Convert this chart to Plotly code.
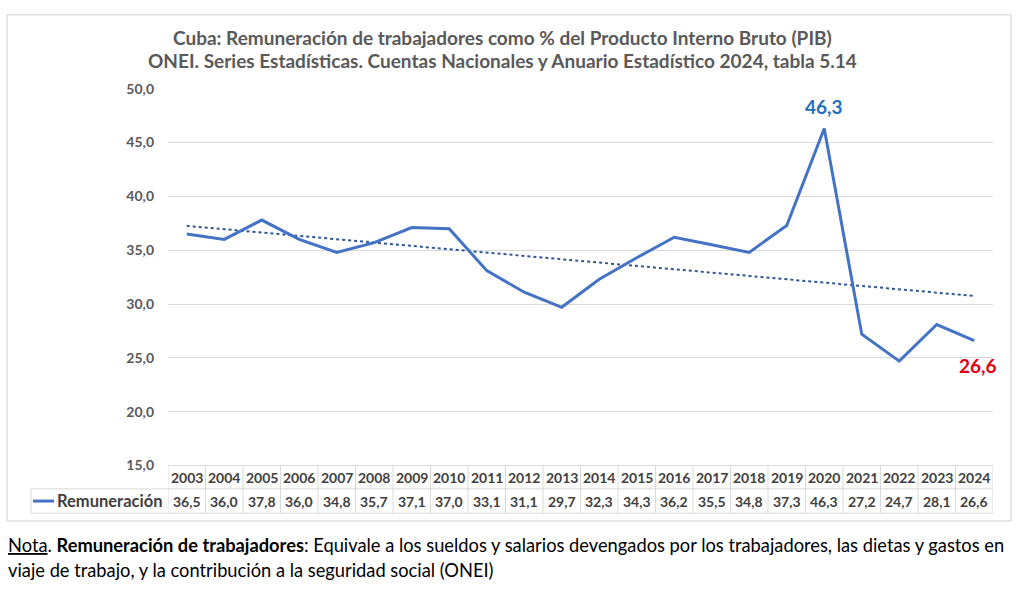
import numpy as np
import plotly.graph_objects as go

years = list(range(2003, 2025))
values = [36.5, 36.0, 37.8, 36.0, 34.8, 35.7, 37.1, 37.0, 33.1, 31.1, 29.7,
          32.3, 34.3, 36.2, 35.5, 34.8, 37.3, 46.3, 27.2, 24.7, 28.1, 26.6]
series_name = "Remuneración"
title_line1 = "Cuba: Remuneración de trabajadores como % del Producto Interno Bruto (PIB)"
title_line2 = "ONEI. Series Estadísticas. Cuentas Nacionales y Anuario Estadístico 2024, tabla 5.14"
y_ticks = [15, 20, 25, 30, 35, 40, 45, 50]
note_line1 = ("<u>Nota</u>. <b>Remuneración de trabajadores</b>: Equivale a los sueldos y salarios "
              "devengados por los trabajadores, las dietas y gastos en")
note_line2 = "viaje de trabajo, y la contribución a la seguridad social (ONEI)"

W, H = 1024, 596
FONT = "Lato"
LINE = "#4472C4"
GRID = "#D9D9D9"
TXT = "#404040"

def px_x(p):
    return p / W

def px_y(p):
    return 1 - p / H

def fmt(v):
    return f"{v:.1f}".replace(".", ",")

# linear trend line (Excel-style linear trendline)
coef = np.polyfit(np.array(years, dtype=float), np.array(values), 1)
trend = np.polyval(coef, np.array(years, dtype=float))

fig = go.Figure()
fig.add_trace(go.Scatter(x=years, y=trend, mode="lines",
                         line=dict(color="#2F5597", width=2, dash="dot"),
                         hoverinfo="skip", showlegend=False))
fig.add_trace(go.Scatter(x=years, y=values, mode="lines", name=series_name,
                         line=dict(color=LINE, width=3), showlegend=False))

plot_left, plot_right = 168, 993
plot_top, plot_bottom = 82, 470

shapes = []
annotations = []

# chart border
shapes.append(dict(type="rect", xref="paper", yref="paper",
                   x0=px_x(7), x1=px_x(1011), y0=px_y(527), y1=px_y(6),
                   line=dict(color="#D0D0D0", width=1)))

# titles
for txt, yp in ((title_line1, 29), (title_line2, 53)):
    annotations.append(dict(text=f"<b>{txt}</b>", xref="paper", yref="paper",
                            x=px_x(502), y=px_y(yp), xanchor="center", yanchor="middle",
                            showarrow=False, font=dict(family=FONT, size=19, color="#595959")))

# data table
hdr_top, hdr_bot, row_bot = 470, 494, 519
tbl_left = 31
x_lo = years[0] - 0.5
x_hi = years[-1] + 0.5
border = dict(color=GRID, width=1)
shapes.append(dict(type="line", xref="x", yref="paper", x0=x_lo, x1=x_hi,
                   y0=px_y(hdr_top), y1=px_y(hdr_top), line=border))
shapes.append(dict(type="line", xref="paper", yref="paper", x0=px_x(tbl_left), x1=px_x(plot_right),
                   y0=px_y(hdr_bot), y1=px_y(hdr_bot), line=border))
shapes.append(dict(type="line", xref="paper", yref="paper", x0=px_x(tbl_left), x1=px_x(plot_right),
                   y0=px_y(row_bot), y1=px_y(row_bot), line=border))
shapes.append(dict(type="line", xref="paper", yref="paper", x0=px_x(tbl_left), x1=px_x(tbl_left),
                   y0=px_y(hdr_bot), y1=px_y(row_bot), line=border))
for i in range(len(years) + 1):
    xv = years[0] - 0.5 + i
    shapes.append(dict(type="line", xref="x", yref="paper", x0=xv, x1=xv,
                       y0=px_y(hdr_top), y1=px_y(row_bot), line=border))
for yr, v in zip(years, values):
    annotations.append(dict(text=f"<b>{yr}</b>", xref="x", yref="paper", x=yr,
                            y=px_y((hdr_top + hdr_bot) / 2), xanchor="center", yanchor="middle",
                            showarrow=False, font=dict(family=FONT, size=14, color=TXT)))
    annotations.append(dict(text=f"<b>{fmt(v)}</b>", xref="x", yref="paper", x=yr,
                            y=px_y((hdr_bot + row_bot) / 2), xanchor="center", yanchor="middle",
                            showarrow=False, font=dict(family=FONT, size=14, color=TXT)))
# legend key in table
key_y = (hdr_bot + row_bot) / 2
shapes.append(dict(type="line", xref="paper", yref="paper", x0=px_x(33), x1=px_x(54),
                   y0=px_y(key_y), y1=px_y(key_y), line=dict(color=LINE, width=3)))
annotations.append(dict(text=f"<b>{series_name}</b>", xref="paper", yref="paper",
                        x=px_x(55), y=px_y(key_y), xanchor="left", yanchor="middle",
                        showarrow=False, font=dict(family=FONT, size=16.5, color=TXT)))

# value labels for max and last
imax = int(np.argmax(values))
annotations.append(dict(text=f"<b>{fmt(values[imax])}</b>", xref="x", yref="y",
                        x=years[imax], y=values[imax], yshift=22, xanchor="center", yanchor="middle",
                        showarrow=False, font=dict(family=FONT, size=19, color="#1F70B8")))
annotations.append(dict(text=f"<b>{fmt(values[-1])}</b>", xref="x", yref="y",
                        x=years[-1], y=values[-1], yshift=-25, xshift=4, xanchor="center", yanchor="middle",
                        showarrow=False, font=dict(family=FONT, size=19, color="#E3000F")))

# note
annotations.append(dict(text=note_line1, xref="paper", yref="paper", x=px_x(6), y=px_y(552),
                        xanchor="left", yanchor="middle", showarrow=False,
                        font=dict(family=FONT, size=18.3, color="#000000")))
annotations.append(dict(text=note_line2, xref="paper", yref="paper", x=px_x(6), y=px_y(577),
                        xanchor="left", yanchor="middle", showarrow=False,
                        font=dict(family=FONT, size=18.3, color="#000000")))

fig.update_layout(
    width=W, height=H,
    margin=dict(l=0, r=0, t=0, b=0, pad=0),
    paper_bgcolor="white", plot_bgcolor="white",
    separators=",.",
    shapes=shapes, annotations=annotations,
    showlegend=False,
    xaxis=dict(domain=[px_x(plot_left), px_x(plot_right)], range=[x_lo, x_hi],
               showticklabels=False, showgrid=False, zeroline=False, showline=False, ticks=""),
    yaxis=dict(domain=[px_y(plot_bottom), px_y(plot_top)], range=[15, 50],
               tickvals=y_ticks, ticktext=[f"<b>{fmt(t)}</b>" for t in y_ticks],
               showgrid=True, gridcolor=GRID, gridwidth=1, zeroline=False, showline=False,
               ticks="", ticklabelstandoff=13,
               tickfont=dict(family=FONT, size=14, color="#595959")),
)

fig.write_html("out.html", config={"displayModeBar": False},
               post_script="document.body.style.margin='0';document.documentElement.style.overflow='hidden';")
